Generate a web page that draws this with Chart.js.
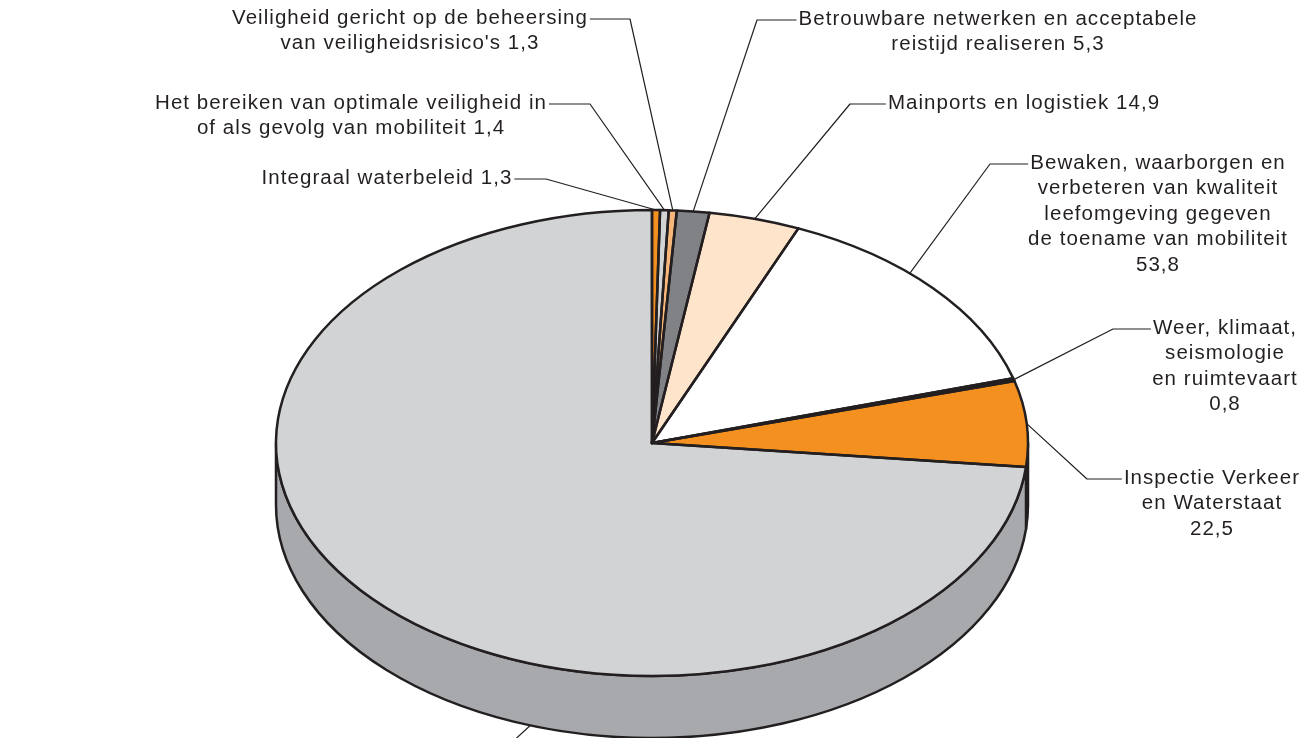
<!DOCTYPE html>
<html>
<head>
<meta charset="utf-8">
<script src="https://cdn.jsdelivr.net/npm/chart.js@4.4.0/dist/chart.umd.min.js"></script>
<style>
  html, body { margin: 0; padding: 0; background: #fff; }
  canvas { display: block; }
</style>
</head>
<body>
<canvas id="pie" width="1313" height="738"></canvas>
<script>
"use strict";
// categories, clockwise from 12 o'clock (line breaks as in the original labels)
var categories = [
    "Integraal waterbeleid",
    "Het bereiken van optimale veiligheid in\nof als gevolg van mobiliteit",
    "Veiligheid gericht op de beheersing\nvan veiligheidsrisico's",
    "Betrouwbare netwerken en acceptabele\nreistijd realiseren",
    "Mainports en logistiek",
    "Bewaken, waarborgen en\nverbeteren van kwaliteit\nleefomgeving gegeven\nde toename van mobiliteit",
    "Weer, klimaat,\nseismologie\nen ruimtevaart",
    "Inspectie Verkeer\nen Waterstaat",
    "Overig"
];
var values = [1.3, 1.4, 1.3, 5.3, 14.9, 53.8, 0.8, 22.5, 279.0];

var topColors = ["#f39020", "#d1d3d4", "#f7b67a", "#808285", "#fde4ca", "#ffffff", "#231f20", "#f39020", "#d1d3d4"];
var sideColors = ["#c46f12", "#a7a9ac", "#c98e58", "#5f6164", "#d9bfa3", "#d6d6d6", "#231f20", "#c46f12", "#a7a9ac"];

// where each label sits: text centre, first line y, elbow of the leader line
var labelLayout = [
    {x: 387, y: 178, elbow: 546, side: "left"},
    {x: 351, y: 103, elbow: 590, side: "left"},
    {x: 410, y: 18, elbow: 630, side: "left"},
    {x: 998, y: 19, elbow: 757, side: "right"},
    {x: 1024, y: 103, elbow: 850, side: "right"},
    {x: 1158, y: 163, elbow: 990, side: "right", ownLine: true, at: 0.4},
    {x: 1225, y: 328, elbow: 1113, side: "right", ownLine: true},
    {x: 1212, y: 478, elbow: 1087, side: "right", ownLine: true},
    {x: 380, y: 757, elbow: 495, side: "left", ownLine: true, at: 0.39, base: true}
];

var RX = 376, RY = 233, DEPTH = 62;
var INK = "#231f20";
var FONT = '20.5px "Liberation Sans", Arial, sans-serif';
var LINE_H = 25.5;

function fmt(v) {
    return v.toFixed(1).replace(".", ",");
}

var pie3d = {
    id: "pie3d",
    beforeDatasetsDraw: function (chart) {
        var ctx = chart.ctx;
        var arcs = chart.getDatasetMeta(0).data;
        var cx = arcs[0].x, cy = arcs[0].y, r = arcs[0].outerRadius;
        ctx.save();
        ctx.lineWidth = 2.5;
        ctx.lineJoin = "round";
        ctx.strokeStyle = INK;
        // the visible front wall of the disc
        arcs.forEach(function (arc, i) {
            var a = Math.max(arc.startAngle, 0), b = Math.min(arc.endAngle, Math.PI);
            if (b <= a) return;
            ctx.beginPath();
            ctx.ellipse(cx, cy, RX, RY, 0, a, b);
            ctx.ellipse(cx, cy + DEPTH, RX, RY, 0, b, a, true);
            ctx.closePath();
            ctx.fillStyle = sideColors[i];
            ctx.fill();
            ctx.stroke();
        });
        ctx.restore();
        // squash the round pie into the tilted top face
        ctx.save();
        ctx.translate(cx, cy);
        ctx.scale(RX / r, RY / r);
        ctx.translate(-cx, -cy);
    },
    afterDatasetsDraw: function (chart) {
        var ctx = chart.ctx;
        ctx.restore();
        var arcs = chart.getDatasetMeta(0).data;
        var cx = arcs[0].x, cy = arcs[0].y;
        ctx.save();
        ctx.lineWidth = 2.5;
        ctx.lineJoin = "round";
        ctx.strokeStyle = INK;
        arcs.forEach(function (arc) {
            ctx.beginPath();
            ctx.moveTo(cx, cy);
            ctx.ellipse(cx, cy, RX, RY, 0, arc.startAngle, arc.endAngle);
            ctx.closePath();
            ctx.stroke();
        });

        // labels with leader lines
        ctx.font = FONT;
        ctx.letterSpacing = "1.05px";
        ctx.fillStyle = INK;
        ctx.textAlign = "center";
        ctx.textBaseline = "middle";
        ctx.lineWidth = 1.2;
        arcs.forEach(function (arc, i) {
            var lay = labelLayout[i];
            var lines = categories[i].split("\n");
            if (lay.ownLine) lines.push(fmt(values[i]));
            else lines[lines.length - 1] += " " + fmt(values[i]);
            lines.forEach(function (txt, k) {
                ctx.fillText(txt, lay.x, lay.y + k * LINE_H);
            });
            var w = ctx.measureText(lines[0]).width;
            var edge = lay.side === "left" ? lay.x + w / 2 + 2 : lay.x - w / 2 - 2;
            var t = arc.startAngle + (lay.at === undefined ? 0.5 : lay.at) * (arc.endAngle - arc.startAngle);
            var px = cx + RX * Math.cos(t), py = cy + RY * Math.sin(t) + (lay.base ? DEPTH : 0);
            ctx.beginPath();
            ctx.moveTo(edge, lay.y + 1);
            ctx.lineTo(lay.elbow, lay.y + 1);
            ctx.lineTo(px, py);
            ctx.stroke();
        });
        ctx.restore();
    }
};

new Chart(document.getElementById("pie"), {
    type: "pie",
    data: {
        labels: categories,
        datasets: [{
            data: values,
            backgroundColor: topColors,
            borderWidth: 0,
            clip: false
        }]
    },
    options: {
        responsive: false,
        animation: false,
        events: [],
        layout: {padding: {left: 372, right: 381, top: 163, bottom: 15}},
        plugins: {
            legend: {display: false},
            tooltip: {enabled: false}
        }
    },
    plugins: [pie3d]
});
</script>
</body>
</html>
